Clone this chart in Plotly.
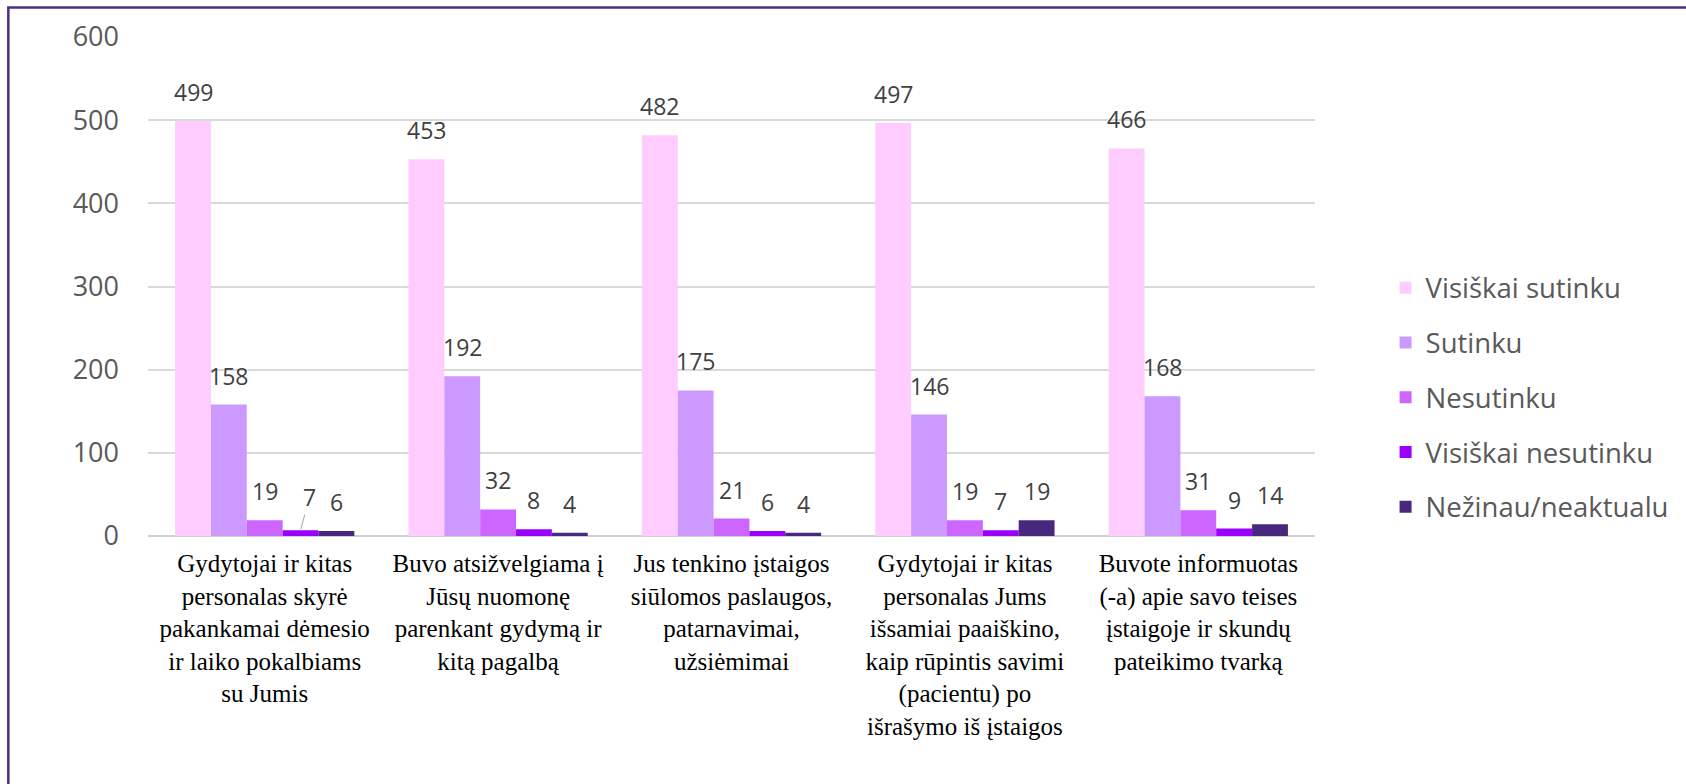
import plotly.graph_objects as go

categories = [
    "Gydytojai ir kitas<br>personalas skyrė<br>pakankamai dėmesio<br>ir laiko pokalbiams<br>su Jumis",
    "Buvo atsižvelgiama į<br>Jūsų nuomonę<br>parenkant gydymą ir<br>kitą pagalbą",
    "Jus tenkino įstaigos<br>siūlomos paslaugos,<br>patarnavimai,<br>užsiėmimai",
    "Gydytojai ir kitas<br>personalas Jums<br>išsamiai paaiškino,<br>kaip rūpintis savimi<br>(pacientu) po<br>išrašymo iš įstaigos",
    "Buvote informuotas<br>(-a) apie savo teises<br>įstaigoje ir skundų<br>pateikimo tvarką",
]

series_names = ["Visiškai sutinku", "Sutinku", "Nesutinku", "Visiškai nesutinku", "Nežinau/neaktualu"]
visiskai_sutinku = [499, 453, 482, 497, 466]
sutinku = [158, 192, 175, 146, 168]
nesutinku = [19, 32, 21, 19, 31]
visiskai_nesutinku = [7, 8, 6, 7, 9]
nezinau = [6, 4, 4, 19, 14]
series_values = [visiskai_sutinku, sutinku, nesutinku, visiskai_nesutinku, nezinau]
colors = ["#FFCCFF", "#CC99FF", "#CC66FF", "#9900FF", "#48287F"]

y_ticks = [0, 100, 200, 300, 400, 500, 600]

BARGAP = 0.232
W, H = 1686, 784
PL, PR, PT, PB = 148, 1322, 36.5, 536  # plot area in px
L, R, T, B = PL, W - PR, PT, H - PB

fig = go.Figure()
for i, (name, vals, col) in enumerate(zip(series_names, series_values, colors)):
    fig.add_trace(go.Bar(
        x=list(range(len(categories))), y=vals, name=name,
        marker=dict(color=col, line=dict(width=0)),
        legendgroup=name,
    ))

# data labels above bars
n = len(series_values)
bw = (1 - BARGAP) / n
annotations = []
for i, vals in enumerate(series_values):
    off = -(1 - BARGAP) / 2 + (i + 0.5) * bw
    for c, v in enumerate(vals):
        lbl_font = dict(family="Open Sans", size=23, color="#404040")
        if i == 3 and c == 0:
            # label moved aside with a leader line, as in the original
            annotations.append(dict(
                x=c + off, y=v, xref="x", yref="y", text=str(v), showarrow=True,
                ax=9, ay=-33, arrowhead=0, arrowwidth=1, arrowcolor="#A6A6A6",
                standoff=1, font=lbl_font,
            ))
        else:
            annotations.append(dict(
                x=c + off, y=v, xref="x", yref="y", text=str(v), showarrow=False,
                yanchor="bottom", xanchor="center", yshift=11, font=lbl_font,
            ))

pw = PR - PL
ph = PB - PT
fig.update_layout(
    width=W, height=H,
    margin=dict(l=L, r=R, t=T, b=B),
    paper_bgcolor="white", plot_bgcolor="white",
    barmode="group", bargap=BARGAP, bargroupgap=0,
    showlegend=True,
    legend=dict(
        x=(1393 - PL) / pw, y=(PB - 263) / ph, xanchor="left", yanchor="top",
        font=dict(family="Open Sans", size=27.5, color="#595959"),
        tracegroupgap=16, bgcolor="rgba(0,0,0,0)",
    ),
    annotations=annotations,
    shapes=[dict(
        type="rect", xref="paper", yref="paper",
        x0=(7.5 - PL) / pw, x1=(W + 50 - PL) / pw,
        y0=-1, y1=(PB - 7) / ph,
        line=dict(color="#4B2E8C", width=2.5), fillcolor="rgba(0,0,0,0)", layer="below",
    )],
    xaxis=dict(
        tickmode="array", tickvals=list(range(len(categories))), ticktext=categories,
        range=[-0.5, len(categories) - 0.5],
        showgrid=False, showline=False, ticks="",
        tickfont=dict(family="Liberation Serif, Times New Roman, serif", size=25, color="#000000"),
        ticklabelstandoff=10,
    ),
    yaxis=dict(
        range=[0, 600], tickvals=y_ticks,
        showgrid=True, gridcolor="#D9D9D9", gridwidth=1.5,
        zeroline=True, zerolinecolor="#D0D0D0", zerolinewidth=1.5,
        showline=False, ticks="",
        tickfont=dict(family="Open Sans", size=27, color="#595959"),
        ticklabelstandoff=28,
    ),
)

fig.write_html(
    "out.html",
    config={"displayModeBar": False},
    post_script="document.body.style.margin='0';document.body.style.overflow='hidden';",
)
